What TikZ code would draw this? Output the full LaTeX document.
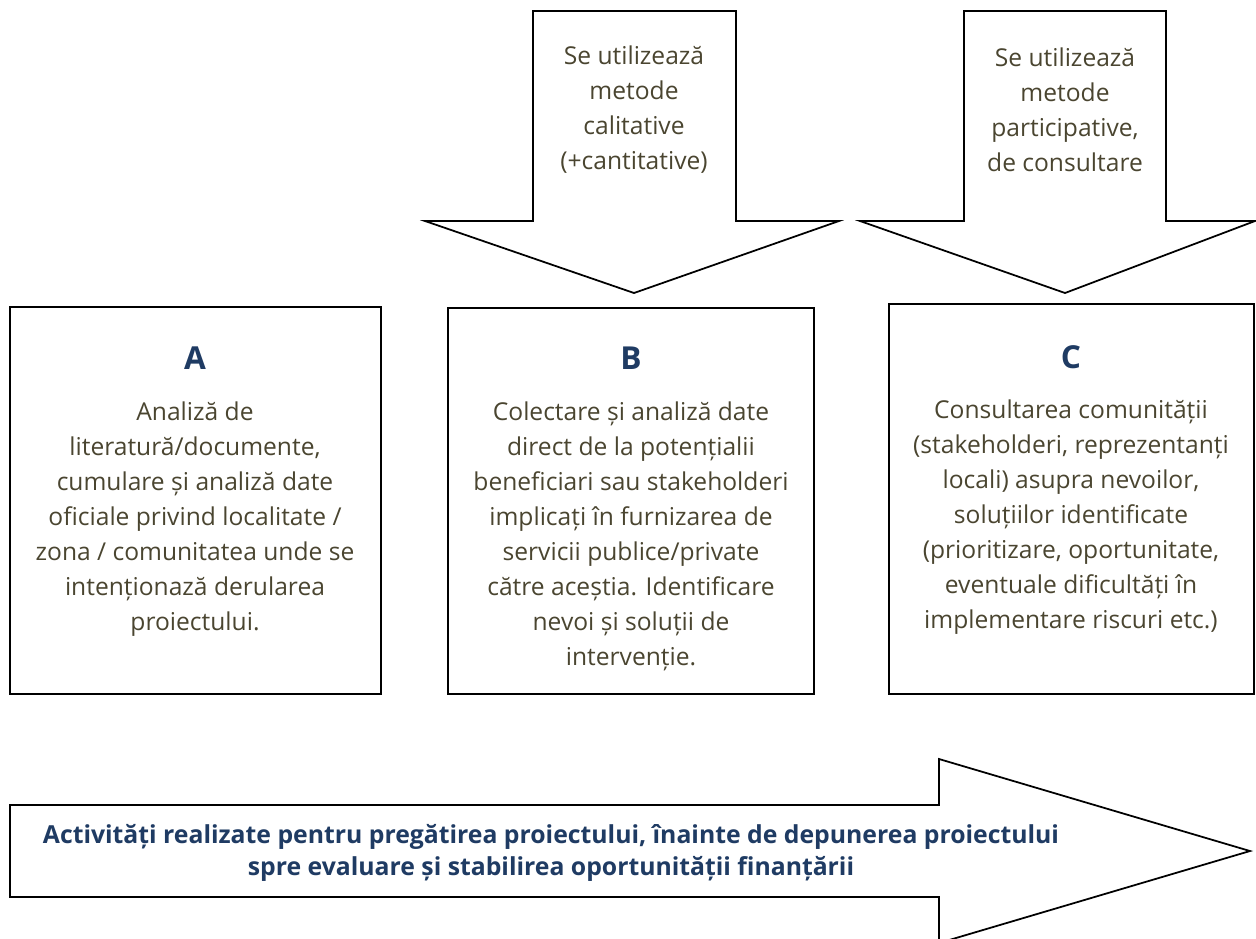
\documentclass[tikz,border=0pt]{standalone}
\usepackage{fontspec}
\setmainfont{Open Sans}
\usetikzlibrary{positioning}
\definecolor{txtolive}{HTML}{4A4530}
\definecolor{hdblue}{HTML}{1F3B63}

\begin{document}
\begin{tikzpicture}[x=0.02cm,y=-0.02cm,
	box/.style={draw,line width=1pt,inner sep=0pt},
	arrowshape/.style={draw,line width=1pt,line join=miter},
	head/.style={text=hdblue,font=\fontsize{18}{21}\bfseries\selectfont},
	body/.style={text=txtolive,align=center,font=\fontsize{14}{19.9}\selectfont},
	banner/.style={text=hdblue,align=center,font=\fontsize{14.1}{18.6}\bfseries\selectfont}]

	\useasboundingbox (0,0) rectangle (1256,938);
	\clip (0,0) rectangle (1256,938);

	% down arrows
	\draw[arrowshape] (533,11) -- (736,11) -- (736,221) -- (839,221) -- (634,293) -- (425,221) -- (533,221) -- cycle;
	\draw[arrowshape] (964,11) -- (1166,11) -- (1166,221) -- (1255,221) -- (1065,293) -- (860,221) -- (964,221) -- cycle;
	\node[body] (methB) at (634,110) {Se utilizează\\metode\\calitative\\(+cantitative)};
	\node[body] (methC) at (1065,110) {Se utilizează\\metode\\participative,\\de consultare};

	% boxes
	\node[box,minimum width=7.42cm,minimum height=7.74cm] (A) at (195.5,500.5) {};
	\node[box,minimum width=7.32cm,minimum height=7.72cm] (B) at (631,501) {};
	\node[box,minimum width=7.30cm,minimum height=7.80cm] (C) at (1071.5,499) {};

	\node[head] (headA) at (195,358) {A};
	\node[head] (headB) at (631,358) {B};
	\node[head] (headC) at (1071,357) {C};

	\node[body] (textA) at (195,519) {Analiză de\\literatură/documente,\\cumulare și analiză date\\oficiale privind localitate /\\zona / comunitatea unde se\\intenționază derularea\\proiectului.};
	\node[body] (textB) at (631,536) {Colectare și analiză date\\direct de la potențialii\\beneficiari sau stakeholderi\\implicați în furnizarea de\\servicii publice/private\\către aceștia. Identificare\\nevoi și soluții de\\intervenție.};
	\node[body] (textC) at (1071,517) {Consultarea comunității\\(stakeholderi, reprezentanți\\locali) asupra nevoilor,\\soluțiilor identificate\\(prioritizare, oportunitate,\\eventuale dificultăți în\\implementare riscuri etc.)};

	% big arrow
	\draw[arrowshape] (10,805) -- (939,805) -- (939,759) -- (1250,851) -- (939,943) -- (939,897) -- (10,897) -- cycle;
	\node[banner] (activ) at (551,853) {Activități realizate pentru pregătirea proiectului, înainte de depunerea proiectului\\spre evaluare și stabilirea oportunității finanțării};

\end{tikzpicture}
\end{document}
